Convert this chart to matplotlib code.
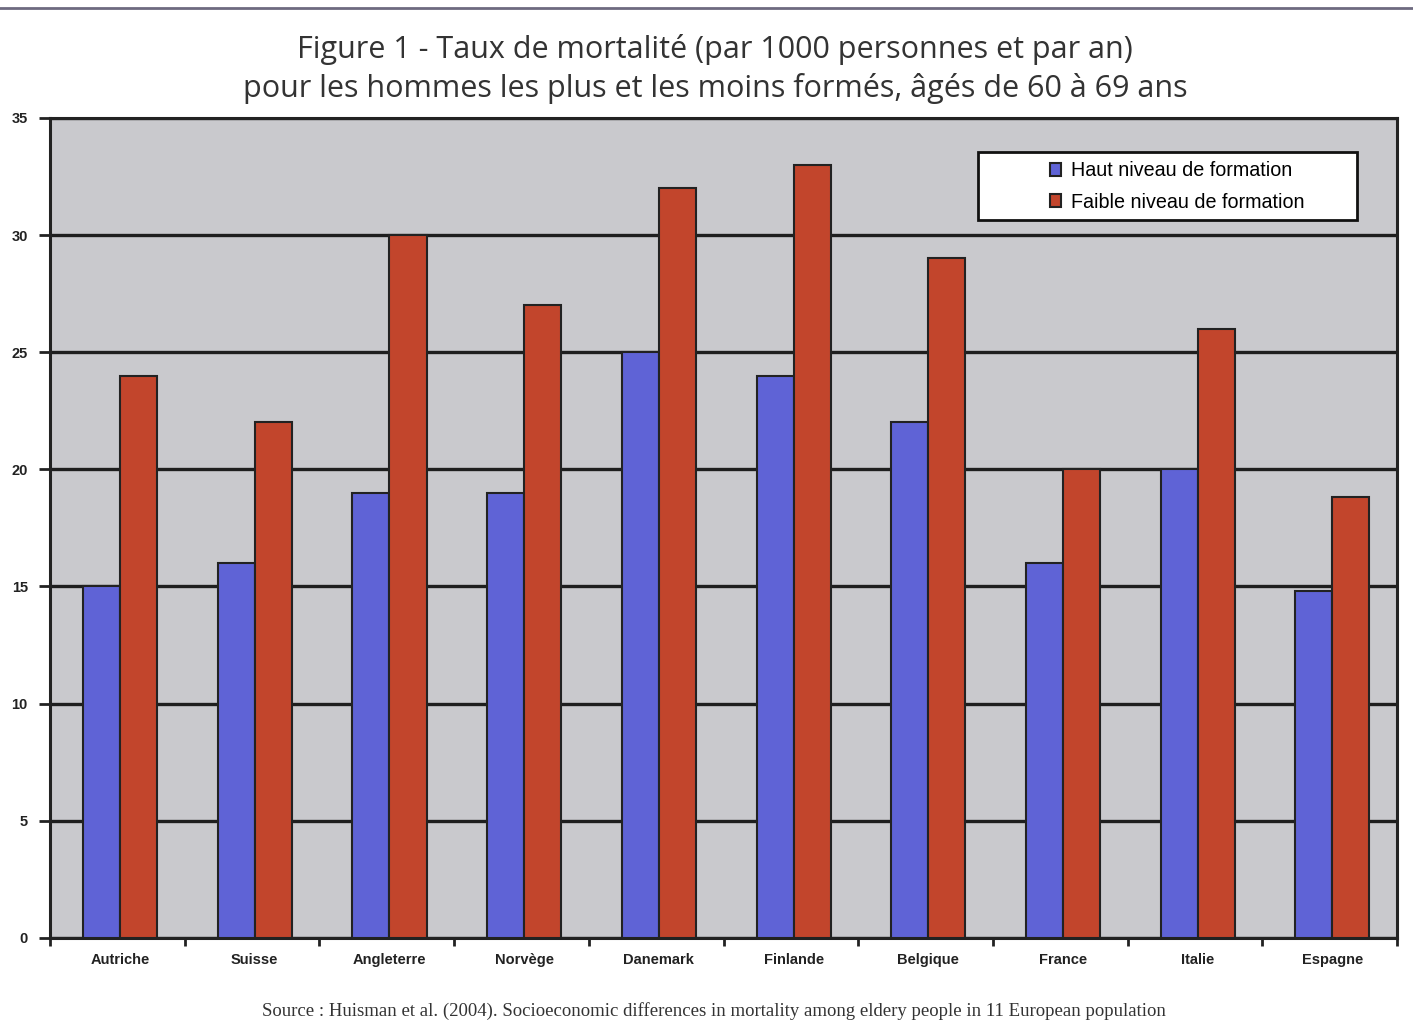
import matplotlib.pyplot as plt
from matplotlib.patches import Rectangle
import numpy as np

# taux de mortalité pour 1000 personnes et par an, hommes 60-69 ans
pays = ['Autriche', 'Suisse', 'Angleterre', 'Norvège', 'Danemark',
        'Finlande', 'Belgique', 'France', 'Italie', 'Espagne']
haut_niveau = [15, 16, 19, 19, 25, 24, 22, 16, 20, 14.8]
faible_niveau = [24, 22, 30, 27, 32, 33, 29, 20, 26, 18.8]

bleu = '#5f63d6'
rouge = '#c2452c'

fig = plt.figure(figsize=(14.13, 10.25), dpi=100)
fig.patch.set_facecolor('white')
ax = fig.add_axes([0.0354, 0.085, 0.9533, 0.80])
ax.set_facecolor('#c9c9cd')

x = np.arange(len(pays))
w = 0.275
ax.bar(x - w / 2 + 0.02, haut_niveau, w, color=bleu, edgecolor='#222222',
       linewidth=1.5, label='Haut niveau de formation', zorder=3)
ax.bar(x + w / 2 + 0.02, faible_niveau, w, color=rouge, edgecolor='#222222',
       linewidth=1.5, label='Faible niveau de formation', zorder=3)

ax.set_xlim(-0.5, len(pays) - 0.5)
ax.set_ylim(0, 35)
ax.set_yticks(range(0, 36, 5))
ax.yaxis.grid(True, color='#1e1e1e', linewidth=2.4, zorder=1)
ax.set_axisbelow(True)

ax.set_xticks(x + 0.02)
ax.set_xticklabels(pays, fontsize=10.5, fontweight='bold', color='#222222',
                   family='Liberation Sans')
ax.set_xticks(np.arange(-0.5, len(pays)), minor=True)
ax.tick_params(axis='x', which='major', length=0, pad=11)
ax.tick_params(axis='x', which='minor', length=6, width=2, color='#222222')
ax.tick_params(axis='y', length=8, width=2, color='#222222', pad=8,
               labelsize=10.5, labelcolor='#222222')
for lbl in ax.get_yticklabels():
    lbl.set_family('Liberation Sans')
    lbl.set_fontweight('bold')

for s in ax.spines.values():
    s.set_color('#222222')
    s.set_linewidth(2.2)

# cadre de la légende, plus large que son contenu
ax.add_patch(Rectangle((0.689, 0.876), 0.281, 0.0825, transform=ax.transAxes,
                       facecolor='white', edgecolor='#111111', linewidth=2,
                       zorder=5))
leg = ax.legend(loc='upper left', bbox_to_anchor=(0.742, 0.947),
                frameon=False, handlelength=0.6, handleheight=0.6,
                borderpad=0, labelspacing=0.62, handletextpad=0.5,
                borderaxespad=0,
                prop={'family': 'Liberation Sans', 'size': 14.2})
leg.set_zorder(6)

fig.text(0.506, 0.952, 'Figure 1 - Taux de mortalité (par 1000 personnes et par an)',
         ha='center', va='center', fontsize=22, color='#333333', family='Open Sans')
fig.text(0.506, 0.914, 'pour les hommes les plus et les moins formés, âgés de 60 à 69 ans',
         ha='center', va='center', fontsize=22, color='#333333', family='Open Sans')
fig.text(0.505, 0.014, 'Source : Huisman et al. (2004). Socioeconomic differences in mortality '
         'among eldery people in 11 European population',
         ha='center', va='center', fontsize=13.5, color='#333333', family='Liberation Serif')

fig.add_artist(plt.Line2D([0.0, 1.0], [0.992, 0.992], transform=fig.transFigure,
                          color='#6e6a80', linewidth=2))

fig.savefig('out.png', dpi=100)
